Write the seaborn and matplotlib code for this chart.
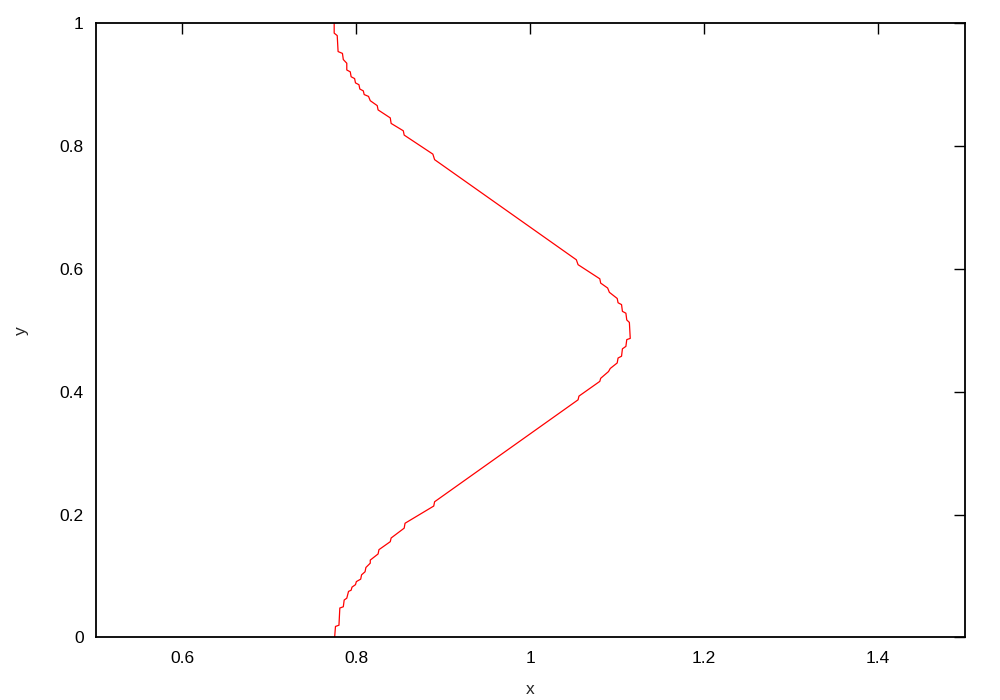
import matplotlib
matplotlib.use("Agg")
import matplotlib.pyplot as plt
import seaborn as sns
import pandas as pd

# profile vertices, top (y=1) to bottom (y=0)
x_vals = [
    0.7745, 0.7745, 0.778, 0.779, 0.784, 0.785, 0.789, 0.789, 0.793, 0.794,
    0.798, 0.799, 0.803, 0.804, 0.808, 0.809, 0.814, 0.816, 0.824, 0.825,
    0.839, 0.840, 0.854, 0.855, 0.888, 0.890, 1.053, 1.055, 1.080, 1.081,
    1.089, 1.091, 1.100, 1.101, 1.105, 1.106, 1.110, 1.111, 1.114, 1.115,
    1.111, 1.110, 1.106, 1.105, 1.101, 1.100, 1.092, 1.090, 1.081, 1.080,
    1.056, 1.055, 0.890, 0.889, 0.856, 0.855, 0.840, 0.839, 0.826, 0.825,
    0.816, 0.816, 0.811, 0.810, 0.806, 0.805, 0.800, 0.799, 0.795, 0.794,
    0.791, 0.789, 0.786, 0.785, 0.781, 0.780, 0.776, 0.775,
]
y_vals = [
    1.000, 0.984, 0.980, 0.954, 0.951, 0.941, 0.935, 0.924, 0.921, 0.913,
    0.910, 0.903, 0.900, 0.893, 0.890, 0.884, 0.881, 0.874, 0.866, 0.859,
    0.846, 0.837, 0.825, 0.818, 0.787, 0.778, 0.615, 0.607, 0.584, 0.577,
    0.569, 0.562, 0.552, 0.545, 0.542, 0.531, 0.528, 0.517, 0.513, 0.487,
    0.485, 0.474, 0.470, 0.458, 0.455, 0.447, 0.438, 0.433, 0.422, 0.417,
    0.393, 0.387, 0.221, 0.214, 0.186, 0.178, 0.162, 0.156, 0.143, 0.136,
    0.126, 0.121, 0.114, 0.107, 0.102, 0.095, 0.091, 0.086, 0.082, 0.077,
    0.075, 0.064, 0.061, 0.050, 0.048, 0.020, 0.018, 0.000,
]

x_ticks = [0.6, 0.8, 1.0, 1.2, 1.4]
x_tick_labels = ["0.6", "0.8", "1", "1.2", "1.4"]
y_ticks = [0, 0.2, 0.4, 0.6, 0.8, 1]
y_tick_labels = ["0", "0.2", "0.4", "0.6", "0.8", "1"]

sns.set_style("white")
plt.rcParams["font.family"] = ["Liberation Sans", "DejaVu Sans"]

df = pd.DataFrame({"x": x_vals, "y": y_vals})

fig = plt.figure(figsize=(10, 7), dpi=100)
ax = fig.add_axes([0.0955, 0.0893, 0.8695, 0.8774])

sns.lineplot(data=df, x="x", y="y", sort=False, estimator=None,
             color="#ff0000", linewidth=0.9, ax=ax)

ax.set_xlim(0.5, 1.5)
ax.set_ylim(0, 1)
ax.set_xticks(x_ticks)
ax.set_xticklabels(x_tick_labels)
ax.set_yticks(y_ticks)
ax.set_yticklabels(y_tick_labels)
ax.tick_params(direction="in", length=8, width=1, colors="black",
               top=True, right=True, labelsize=12.5)
ax.tick_params(axis="x", pad=9.5)
ax.tick_params(axis="y", pad=8.5)
for sp in ax.spines.values():
    sp.set_visible(True)
    sp.set_color("black")
    sp.set_linewidth(1.3)

ax.set_xlabel("x", fontsize=12.5, labelpad=12)
ax.set_ylabel("y", fontsize=12.5, labelpad=22)

fig.savefig("out.png", dpi=100, facecolor="white")
